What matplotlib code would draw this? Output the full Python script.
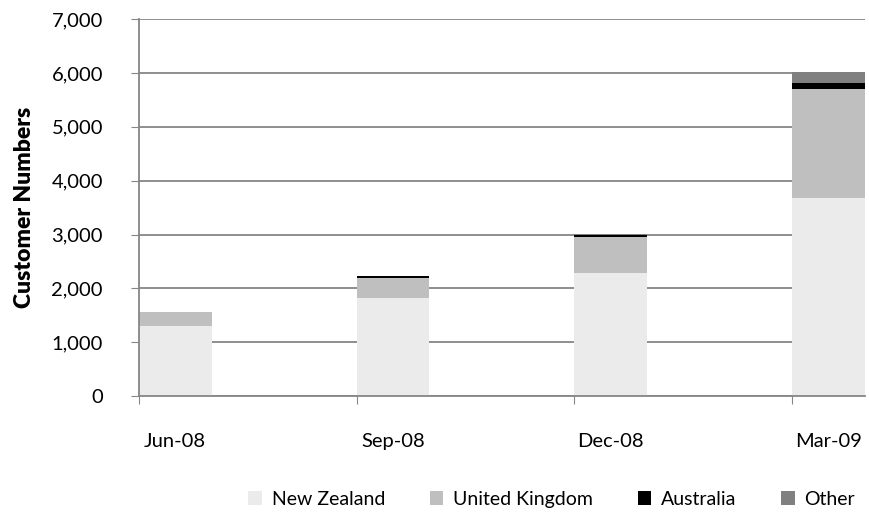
import numpy as np
import matplotlib.pyplot as plt
from matplotlib.ticker import FuncFormatter

plt.rcParams['font.family'] = ['Lato', 'DejaVu Sans']

# Quarterly customer numbers by region
quarters = ['Jun-08', 'Sep-08', 'Dec-08', 'Mar-09']
new_zealand = [1305, 1825, 2290, 3680]
united_kingdom = [255, 371, 662, 2020]
australia = [0, 37, 43, 110]
other = [0, 0, 10, 200]

series = [
    ('New Zealand', new_zealand, '#ebebeb'),
    ('United Kingdom', united_kingdom, '#bfbfbf'),
    ('Australia', australia, '#000000'),
    ('Other', other, '#808080'),
]

fig = plt.figure(figsize=(8.69, 5.19), dpi=100)
ax = fig.add_axes([0.16, 0.237, 0.835, 0.726])

x = np.arange(len(quarters))
width = 0.333
bottom = np.zeros(len(quarters))
for name, vals, color in series:
    ax.bar(x, vals, width=width, bottom=bottom, align='edge', color=color,
           label=name, zorder=3)
    bottom += np.array(vals)

ax.set_xlim(0, len(quarters) - 1 + width)
ax.set_ylim(0, 7000)
ax.set_yticks(range(0, 7001, 1000))
ax.yaxis.set_major_formatter(FuncFormatter(lambda v, p: f'{int(v):,}'))
ax.grid(axis='y', color='#868686', linewidth=1.3, zorder=0)

# ticks at bar edges, labels under bar centres
ax.set_xticks(x)
ax.set_xticklabels([])
ax.set_xticks(x + width / 2, minor=True)
ax.set_xticklabels(quarters, minor=True)
ax.tick_params(axis='x', which='major', length=6, color='#868686')
ax.tick_params(axis='x', which='minor', length=0, pad=27, labelsize=14.5)
ax.tick_params(axis='y', length=6, color='#868686', labelsize=14.5, pad=20)

for s in ['top', 'right']:
    ax.spines[s].set_visible(False)
for s in ['left', 'bottom']:
    ax.spines[s].set_color('#868686')
    ax.spines[s].set_linewidth(1.3)
    ax.spines[s].set_zorder(4)

ax.set_ylabel('Customer Numbers', fontsize=16.5, fontweight='heavy', labelpad=12)

handles, labels = ax.get_legend_handles_labels()
fig.legend(handles, labels, loc='lower center', bbox_to_anchor=(0.635, -0.012),
           ncol=4, frameon=False, fontsize=14, handlelength=0.7,
           handleheight=0.7, handletextpad=0.5, columnspacing=2.3)

fig.savefig('out.png', dpi=100)
